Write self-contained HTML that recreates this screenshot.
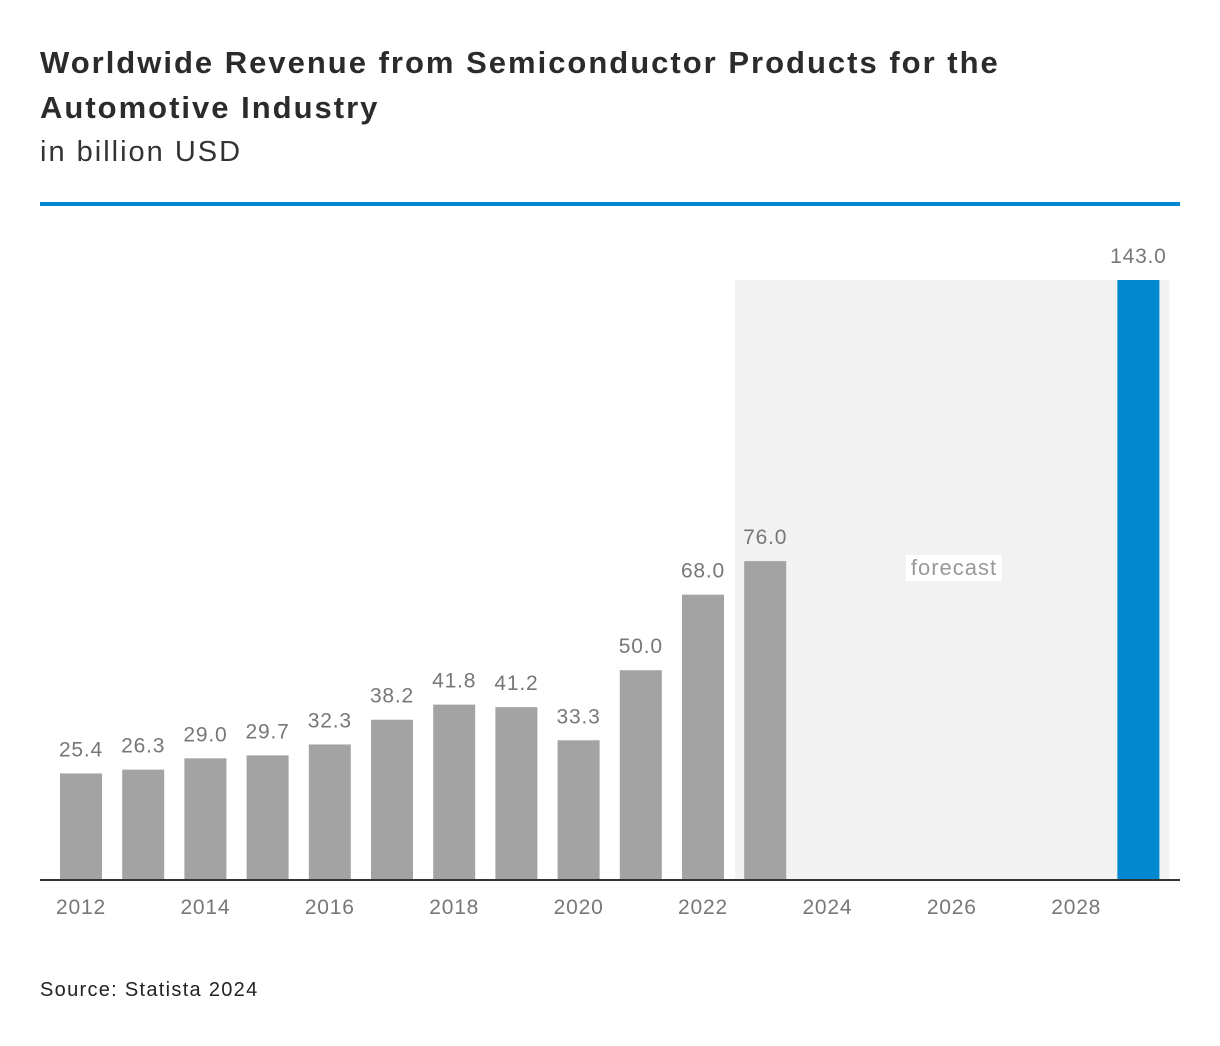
<!DOCTYPE html>
<html><head><meta charset="utf-8">
<style>
body{margin:0;background:#fff;font-family:"Liberation Sans","DejaVu Sans",sans-serif;}
#wrap{position:relative;width:1220px;height:1046px;overflow:hidden;}
.t{position:absolute;left:40px;color:#2b2b2b;white-space:nowrap;}
</style></head><body>
<div id="wrap">
<div class="t" style="top:40px;font-size:31px;font-weight:bold;line-height:45px;letter-spacing:2px;">Worldwide Revenue from Semiconductor Products for the<br>Automotive Industry</div>
<div class="t" style="top:136px;font-size:29px;color:#333;letter-spacing:2px;">in billion USD</div>
<div style="position:absolute;left:40px;top:202px;width:1140px;height:4px;background:#0088d1;"></div>
<svg id="chart" width="1220" height="1046" style="position:absolute;left:0;top:0;font-family:'Liberation Sans',sans-serif;"></svg>
<div class="t" style="top:979px;font-size:20px;color:#222;letter-spacing:1.3px;">Source: Statista 2024</div>
</div>
<script>
const years=[2012,2013,2014,2015,2016,2017,2018,2019,2020,2021,2022,2023,2024,2025,2026,2027,2028,2029];
const values=[25.4,26.3,29.0,29.7,32.3,38.2,41.8,41.2,33.3,50.0,68.0,76.0,null,null,null,null,null,143.0];
const tickYears=[2012,2014,2016,2018,2020,2022,2024,2026,2028];
const forecastStart=2023, forecastEnd=2029, forecastBarFrom=2024;
const NS="http://www.w3.org/2000/svg";
const svg=document.getElementById('chart');
const base=880, x0=81, pitch=62.2, bw=42, scale=600/143;
const xs=y=>x0+(y-2012)*pitch;
const ys=v=>base-v*scale;
function mk(t,a){const e=document.createElementNS(NS,t);for(const k in a)e.setAttribute(k,a[k]);svg.appendChild(e);return e;}
const fx0=xs(forecastStart)-bw/2-9, fx1=xs(forecastEnd)+31;
let fr=mk('rect',{x:fx0,y:ys(143),width:fx1-fx0,height:base-ys(143),fill:'#f2f2f2'});


let fb=mk('rect',{x:906,y:555,width:96,height:26,fill:'#fff'});


let ft=mk('text',{x:954,y:575,'text-anchor':'middle','font-size':22,fill:'#999','letter-spacing':1});ft.textContent='forecast';


years.forEach((yr,i)=>{const v=values[i];if(v==null)return;
 const b=mk('rect',{x:xs(yr)-bw/2,y:ys(v),width:bw,height:base-ys(v),fill:yr>=forecastBarFrom?'#0088d1':'#a3a3a3'});
 
 
 const l=mk('text',{x:xs(yr),y:ys(v)-17,'text-anchor':'middle','font-size':21,fill:'#777','letter-spacing':0.8});l.textContent=v.toFixed(1);
 
 
});
const ax=mk('line',{x1:40,x2:1180,y1:base,y2:base,stroke:'#333','stroke-width':2});


tickYears.forEach(yr=>{const t=mk('text',{x:xs(yr),y:914,'text-anchor':'middle','font-size':21,fill:'#777','letter-spacing':0.8});t.textContent=yr;
 
 });
</script>
</body></html>
